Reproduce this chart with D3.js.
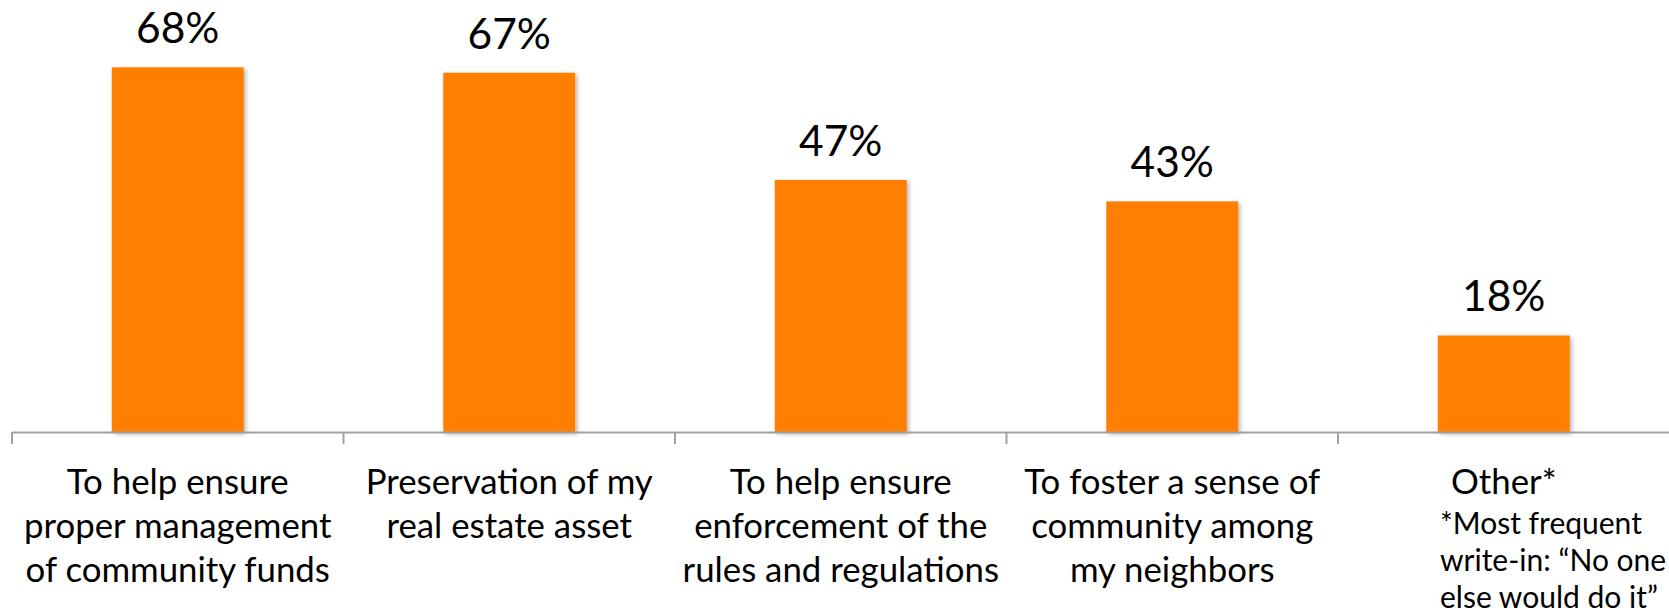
<!DOCTYPE html>
<html>
<head>
<meta charset="utf-8">
<script src="https://cdn.jsdelivr.net/npm/d3@7"></script>
<style>
  html, body { margin: 0; padding: 0; background: #ffffff; }
  svg { display: block; }
  text { font-family: Lato, "Open Sans", sans-serif; fill: #000; }
</style>
</head>
<body>
<svg id="chart" width="1669" height="613"></svg>
<script>
// Reasons for serving on the board (share of respondents, %)
const categories = [
  "To help ensure proper management of community funds",
  "Preservation of my real estate asset",
  "To help ensure enforcement of the rules and regulations",
  "To foster a sense of community among my neighbors",
  "Other*"
];
const labelLines = [
  ["To help ensure", "proper management", "of community funds"],
  ["Preservation of my", "real estate asset"],
  ["To help ensure", "enforcement of the", "rules and regulations"],
  ["To foster a sense of", "community among", "my neighbors"],
  ["Other*"]
];
const values = [68, 67, 47, 43, 18];
const valueLabels = ["68%", "67%", "47%", "43%", "18%"];
const noteLines = ["*Most frequent", "write-in: \u201CNo one", "else would do it\u201D"];

const svg = d3.select("#chart");
const baseY = 432;

const x = d3.scaleBand()
  .domain(categories)
  .range([12, 1669.5])
  .padding(0);

const y = d3.scaleLinear()
  .domain([0, 80])
  .range([baseY, 3]);

const barW = x.bandwidth() * 0.398;

// soft shadow under the bars
const defs = svg.append("defs");
const f = defs.append("filter").attr("id", "shadow")
  .attr("x", "-10%").attr("y", "-10%").attr("width", "130%").attr("height", "130%");
f.append("feDropShadow")
  .attr("dx", 2).attr("dy", 2).attr("stdDeviation", 2)
  .attr("flood-color", "#000").attr("flood-opacity", 0.3);

// bars
svg.append("g").selectAll("rect")
  .data(values)
  .join("rect")
  .attr("x", (d, i) => x(categories[i]) + (x.bandwidth() - barW) / 2)
  .attr("y", d => y(d))
  .attr("width", barW)
  .attr("height", d => baseY - y(d))
  .attr("fill", "#FF7F00")
  .attr("filter", "url(#shadow)");

// category axis: baseline and tick marks at band boundaries
const axis = d3.axisBottom(x).tickSize(0).tickFormat("");
const gAxis = svg.append("g").attr("transform", `translate(0,${baseY})`).call(axis);
gAxis.select(".domain").attr("stroke", "#a0a0a0").attr("stroke-width", 2);

svg.append("g").selectAll("line")
  .data(categories)
  .join("line")
  .attr("x1", d => x(d)).attr("x2", d => x(d))
  .attr("y1", baseY).attr("y2", baseY + 12)
  .attr("stroke", "#a0a0a0").attr("stroke-width", 2);

// value labels
svg.append("g").selectAll("text")
  .data(values)
  .join("text")
  .attr("x", (d, i) => x(categories[i]) + x.bandwidth() / 2)
  .attr("y", d => y(d) - 24)
  .attr("text-anchor", "middle")
  .attr("font-size", 42.5)
  .text((d, i) => valueLabels[i]);

// category labels
const gLab = svg.append("g");
categories.forEach((c, i) => {
  const t = gLab.append("text")
    .attr("text-anchor", "middle")
    .attr("font-size", 34.8);
  labelLines[i].forEach((line, j) => {
    t.append("tspan")
      .attr("x", x(c) + x.bandwidth() / 2)
      .attr("y", 494 + j * 44)
      .text(line);
  });
});

// footnote under "Other*"
const note = svg.append("text")
  .attr("font-size", 30);
noteLines.forEach((line, j) => {
  note.append("tspan")
    .attr("x", 1440)
    .attr("y", 534 + j * 37)
    .text(line);
});
</script>
</body>
</html>
